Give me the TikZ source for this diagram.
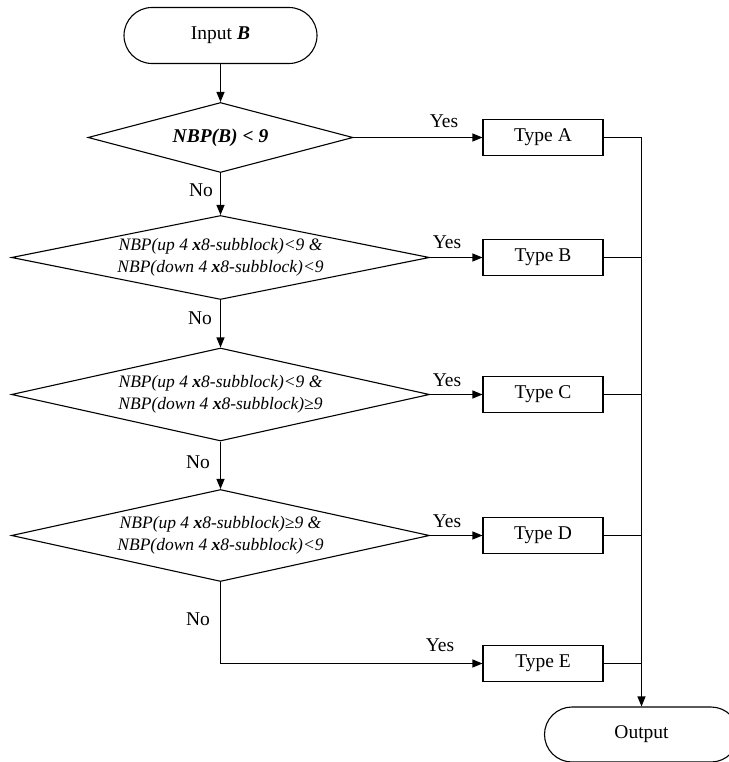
\documentclass[tikz,border=0pt]{standalone}
\usepackage{fontspec}
\setmainfont{Liberation Serif}
\usetikzlibrary{shapes.geometric,shapes.misc,arrows.meta}
\begin{document}
\begin{tikzpicture}[x=1pt,y=-1pt,
 base/.style={draw,line width=1.1pt},
 term/.style={base,rounded rectangle,minimum width=193pt,minimum height=56pt,inner sep=0pt,font=\fontsize{19.5}{22}\selectfont},
 dec/.style={base,diamond,aspect=5,inner sep=-8pt,font=\fontsize{17.5}{22}\selectfont\itshape,align=center},
 typebox/.style={base,rectangle,minimum width=120pt,minimum height=36pt,inner sep=0pt,font=\fontsize{19.5}{22}\selectfont},
 lbl/.style={font=\fontsize{19.5}{22}\selectfont,inner sep=0pt},
 arr/.style={line width=1.1pt,-{Triangle[length=10pt,width=8pt]}},
 ln/.style={line width=1.1pt},
]
\useasboundingbox (0,0) rectangle (728,762);

\node[term] (in) at (220.5,35.5) {Input \textbf{\textit{B}}};
\node[dec,font=\fontsize{19.5}{22}\selectfont\bfseries\itshape,minimum width=265pt,minimum height=70pt] (d1) at (220.5,137.5) {NBP(B) < 9};
\node[dec,minimum width=418pt,minimum height=84pt] (d2) at (220.5,257.5) {NBP(up 4 \textbf{x}8-subblock)<9 \&\\NBP(down 4 \textbf{x}8-subblock)<9};
\node[dec,minimum width=418pt,minimum height=93pt] (d3) at (220.5,394.5) {NBP(up 4 \textbf{x}8-subblock)<9 \&\\NBP(down 4 \textbf{x}8-subblock)≥9};
\node[dec,minimum width=418pt,minimum height=92pt] (d4) at (220.5,535.5) {NBP(up 4 \textbf{x}8-subblock)≥9 \&\\NBP(down 4 \textbf{x}8-subblock)<9};

\node[typebox] (tA) at (543,137.5) {Type A};
\node[typebox] (tB) at (543,257.5) {Type B};
\node[typebox] (tC) at (543,394.5) {Type C};
\node[typebox] (tD) at (543,535.5) {Type D};
\node[typebox] (tE) at (543,663.5) {Type E};

\node[term,minimum width=194pt,minimum height=55pt] (out) at (641.5,734.5) {Output};

\draw[arr] (in.south) -- (d1.north);
\draw[arr] (d1.south) -- (d2.north);
\draw[arr] (d2.south) -- (d3.north);
\draw[arr] (d3.south) -- (d4.north);
\draw[arr] (d4.south) |- (tE.west);

\draw[arr] (d1.east) -- (tA.west);
\draw[arr] (d2.east) -- (tB.west);
\draw[arr] (d3.east) -- (tC.west);
\draw[arr] (d4.east) -- (tD.west);

\draw[arr] (tA.east) -- (tA.east -| out.north) -- (out.north);
\draw[ln] (tB.east) -- (tB.east -| out.north);
\draw[ln] (tC.east) -- (tC.east -| out.north);
\draw[ln] (tD.east) -- (tD.east -| out.north);
\draw[ln] (tE.east) -- (tE.east -| out.north);

\node[lbl] (yA) at (444,121) {Yes};
\node[lbl] (yB) at (447,242) {Yes};
\node[lbl] (yC) at (447,380) {Yes};
\node[lbl] (yD) at (447,521) {Yes};
\node[lbl] (yE) at (440,645) {Yes};

\node[lbl] (n1) at (201,190) {No};
\node[lbl] (n2) at (200,318) {No};
\node[lbl] (n3) at (198,462) {No};
\node[lbl] (n4) at (198,619) {No};
\end{tikzpicture}
\end{document}
